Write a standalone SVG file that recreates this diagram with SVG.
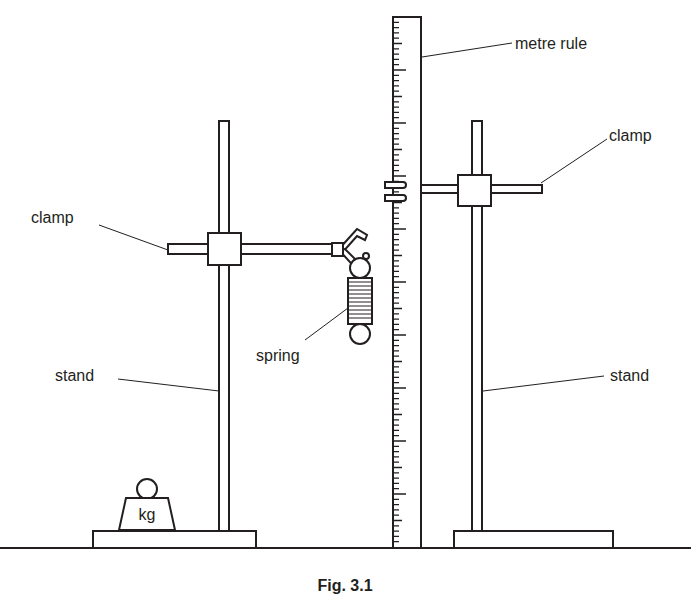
<svg xmlns="http://www.w3.org/2000/svg" width="691" height="599" viewBox="0 0 691 599">
<style>
.s{fill:#fff;stroke:#231f20;stroke-width:2}
.l{stroke:#231f20;stroke-width:1;fill:none}
.t{font-family:"Liberation Sans",Arial,sans-serif;font-size:16px;fill:#231f20}
.tk{stroke:#231f20;stroke-width:1.3}
</style>
<rect width="691" height="599" fill="#fff"/>
<g id="ground"><line x1="0" y1="548" x2="691" y2="548" stroke="#231f20" stroke-width="2"/></g>
<g id="left-stand">
<rect class="s" x="93" y="531" width="163" height="17"/>
<rect class="s" x="219" y="121" width="10" height="410"/>
<rect class="s" x="168" y="244" width="164" height="10"/>
<rect class="s" x="208" y="233" width="33" height="32"/>
</g>
<g id="weight">
<circle class="s" cx="147" cy="489" r="10"/>
<path class="s" d="M126 498 H168 L175 530 H119 Z"/>
<text class="t" x="147" y="520" text-anchor="middle" font-size="18">kg</text>
</g>
<g id="clamp-jaws">
<path class="s" d="M339 249 L357 229 L367 235 L365 240 L357 236 L342 253 Z"/>
<path class="s" d="M339 250 L358 271 L365 266 L355 259 L345 249 Z"/>
<circle class="s" cx="366" cy="256" r="3"/>
<rect class="s" x="332" y="243" width="11" height="13"/>
</g>
<g id="spring">
<circle class="s" cx="360" cy="268" r="10"/>
<rect class="s" x="348" y="278" width="24" height="46"/>
<path class="l" d="M348 282h24M348 286h24M348 290h24M348 294h24M348 298h24M348 302h24M348 306h24M348 310h24M348 314h24M348 318h24"/>
<circle class="s" cx="360" cy="334" r="10"/>
</g>
<g id="metre-rule">
<rect class="s" x="393" y="17" width="28" height="531"/>
<path class="tk" d="M394 22.3h5M394 27.6h5M394 32.9h5M394 38.2h5M394 43.5h8M394 48.8h5M394 54.1h5M394 59.4h5M394 64.7h5M394 70h12"/>
<path class="tk" d="M394 75.3h5M394 80.6h5M394 85.9h5M394 91.2h5M394 96.5h8M394 101.8h5M394 107.1h5M394 112.4h5M394 117.7h5M394 123h12"/>
<path class="tk" d="M394 128.3h5M394 133.6h5M394 138.9h5M394 144.2h5M394 149.5h8M394 154.8h5M394 160.1h5M394 165.4h5M394 170.7h5M394 176h12"/>
<path class="tk" d="M394 181.3h5M394 186.6h5M394 191.9h5M394 197.2h5M394 202.5h8M394 207.8h5M394 213.1h5M394 218.4h5M394 223.7h5M394 229h12"/>
<path class="tk" d="M394 234.3h5M394 239.6h5M394 244.9h5M394 250.2h5M394 255.5h8M394 260.8h5M394 266.1h5M394 271.4h5M394 276.7h5M394 282h12"/>
<path class="tk" d="M394 287.3h5M394 292.6h5M394 297.9h5M394 303.2h5M394 308.5h8M394 313.8h5M394 319.1h5M394 324.4h5M394 329.7h5M394 335h12"/>
<path class="tk" d="M394 340.3h5M394 345.6h5M394 350.9h5M394 356.2h5M394 361.5h8M394 366.8h5M394 372.1h5M394 377.4h5M394 382.7h5M394 388h12"/>
<path class="tk" d="M394 393.3h5M394 398.6h5M394 403.9h5M394 409.2h5M394 414.5h8M394 419.8h5M394 425.1h5M394 430.4h5M394 435.7h5M394 441h12"/>
<path class="tk" d="M394 446.3h5M394 451.6h5M394 456.9h5M394 462.2h5M394 467.5h8M394 472.8h5M394 478.1h5M394 483.4h5M394 488.7h5M394 494h12"/>
<path class="tk" d="M394 499.3h5M394 504.6h5M394 509.9h5M394 515.2h5M394 520.5h8M394 525.8h5M394 531.1h5M394 536.4h5M394 541.7h5"/>
<path class="s" d="M385 182 H403 a3 3 0 0 1 0 6 H385 Z"/>
<path class="s" d="M385 195 H403 a3 3 0 0 1 0 6 H385 Z"/>
</g>
<g id="right-stand">
<rect class="s" x="454" y="531" width="159" height="17"/>
<rect class="s" x="472" y="121" width="10" height="410"/>
<rect class="s" x="421" y="185" width="121" height="8"/>
<rect class="s" x="458" y="175" width="33" height="31"/>
</g>
<g id="connectors">
<line class="l" x1="422" y1="57" x2="512" y2="43"/>
<line class="l" x1="541" y1="183" x2="607" y2="139"/>
<line class="l" x1="99" y1="225" x2="168" y2="250"/>
<line class="l" x1="305" y1="340" x2="348" y2="308"/>
<line class="l" x1="118" y1="379" x2="219" y2="391"/>
<line class="l" x1="483" y1="391" x2="604" y2="376"/>
</g>
<g id="labels">
<text class="t" x="515" y="49">metre rule</text>
<text class="t" x="609" y="141">clamp</text>
<text class="t" x="31" y="223">clamp</text>
<text class="t" x="256" y="361">spring</text>
<text class="t" x="55" y="381">stand</text>
<text class="t" x="610" y="381">stand</text>
<text class="t" x="345" y="591" font-weight="bold" text-anchor="middle">Fig. 3.1</text>
</g>
</svg>
